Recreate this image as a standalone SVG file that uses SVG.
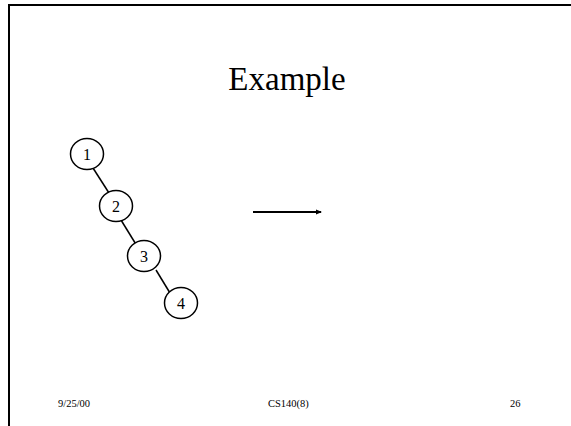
<svg xmlns="http://www.w3.org/2000/svg" width="571" height="426" viewBox="0 0 571 426">
<style>
.node ellipse{fill:#fff;stroke:#000;stroke-width:1.5}
.node text{font-family:"Liberation Serif",serif;font-size:16px;text-anchor:middle;fill:#000}
.edge{stroke:#000;stroke-width:1.5}
.foot{font-family:"Liberation Serif",serif;font-size:10.5px;fill:#000}
</style>
<defs>
<marker id="ah" markerWidth="6" markerHeight="6" refX="5" refY="3" orient="auto" markerUnits="userSpaceOnUse">
<path d="M0,0.5 L6,3 L0,5.5 Z" fill="#000"/>
</marker>
</defs>
<rect width="571" height="426" fill="#fff"/>
<path d="M9,426 V5 H571" fill="none" stroke="#000" stroke-width="2"/>
<text x="287" y="90" font-family="Liberation Serif, serif" font-size="33" text-anchor="middle">Example</text>
<g id="connectors">
<line class="edge" x1="93" y1="168" x2="109" y2="193"/>
<line class="edge" x1="121" y1="220" x2="137" y2="246"/>
<line class="edge" x1="156" y1="270" x2="170" y2="293"/>
<line stroke="#000" stroke-width="2" x1="253" y1="212" x2="321" y2="212" marker-end="url(#ah)"/>
</g>
<g id="n1" class="node"><ellipse cx="87" cy="154" rx="16.5" ry="15.5"/><text x="87" y="159.5">1</text></g>
<g id="n2" class="node"><ellipse cx="116" cy="206" rx="16.5" ry="15.5"/><text x="116" y="211.5">2</text></g>
<g id="n3" class="node"><ellipse cx="144" cy="256" rx="16.5" ry="15.5"/><text x="144" y="261.5">3</text></g>
<g id="n4" class="node"><ellipse cx="181" cy="303" rx="16.5" ry="15.5"/><text x="181" y="308.5">4</text></g>
<text class="foot" x="58" y="406.5">9/25/00</text>
<text class="foot" x="268" y="406.5">CS140(8)</text>
<text class="foot" x="510" y="406.5">26</text>
</svg>
